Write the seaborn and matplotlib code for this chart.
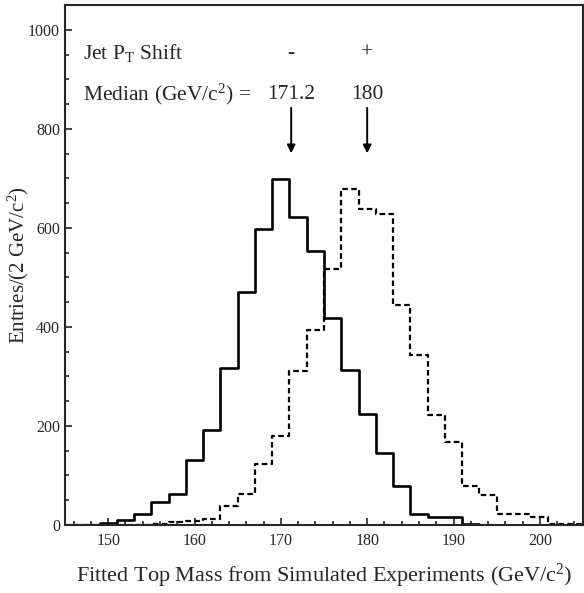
import numpy as np
import pandas as pd
import matplotlib
matplotlib.use('Agg')
import matplotlib.pyplot as plt
import seaborn as sns
from matplotlib.ticker import MultipleLocator

# bin edges (2 GeV/c^2 bins) and entries
edges = list(range(145, 206, 2))
minus_counts = [1, 1, 5, 11, 22, 46, 63, 131, 192, 317,
                470, 597, 698, 622, 553, 418, 312, 225, 145, 78,
                22, 16, 16, 2, 1, 1, 1, 0, 0, 0]
plus_counts = [0, 0, 0, 1, 1, 2, 7, 8, 12, 39,
               62, 123, 180, 310, 393, 517, 679, 639, 628, 444,
               343, 222, 167, 79, 60, 23, 23, 17, 3, 3]

medians = [171.2, 180]
median_labels = ['171.2', '180']
shift_labels = ['-', '+']

centers = [(a + b) / 2 for a, b in zip(edges[:-1], edges[1:])]
minus_df = pd.DataFrame({'mass': centers, 'entries': minus_counts})
plus_df = pd.DataFrame({'mass': centers, 'entries': plus_counts})

sns.set_style('ticks')
plt.rcParams['font.family'] = ['Liberation Serif', 'DejaVu Serif']
plt.rcParams['mathtext.fontset'] = 'custom'
plt.rcParams['mathtext.rm'] = 'Liberation Serif'
plt.rcParams['mathtext.it'] = 'Liberation Serif:italic'

fig = plt.figure(figsize=(5.84, 5.93), dpi=100)
ax = fig.add_axes([65 / 584, 68 / 593, 518 / 584, 520 / 593])

sns.histplot(data=minus_df, x='mass', weights='entries', bins=edges,
             element='step', fill=False, color='black', linewidth=1.9, ax=ax)
sns.histplot(data=plus_df, x='mass', weights='entries', bins=edges,
             element='step', fill=False, color='black', linewidth=1.6,
             linestyle=(0, (2.5, 1.5)), ax=ax)

ax.set_xlim(145, 205)
ax.set_ylim(0, 1050)
ax.xaxis.set_major_locator(MultipleLocator(10))
ax.xaxis.set_minor_locator(MultipleLocator(2))
ax.yaxis.set_major_locator(MultipleLocator(200))
ax.yaxis.set_minor_locator(MultipleLocator(50))
ax.tick_params(which='both', direction='in', width=1.2, labelsize=11.5)
ax.tick_params(which='major', length=5)
ax.tick_params(which='minor', length=3)
ax.tick_params(axis='x', pad=6)
for s in ax.spines.values():
    s.set_linewidth(1.5)

ax.set_xlabel('Fitted Top Mass from Simulated Experiments (GeV/c$^2$)', fontsize=16, labelpad=9)
ax.set_ylabel('Entries/(2 GeV/c$^2$)', fontsize=15)
ax.yaxis.set_label_coords(-0.066, 0.5)

# annotation block
ax.text(147.1, 953, 'Jet P$_\\mathrm{T}$ Shift', fontsize=15.5, va='center')
ax.text(147.1, 870, 'Median (GeV/c$^2$) =', fontsize=15.5, va='center')
for m, lab, sh in zip(medians, median_labels, shift_labels):
    ax.text(m, 953, sh, fontsize=15.5, ha='center', va='center')
    ax.text(m, 870, lab, fontsize=15.5, ha='center', va='center')
    ax.annotate('', xy=(m, 745), xytext=(m, 848),
                arrowprops=dict(arrowstyle='-|>', color='black', lw=1.4, mutation_scale=12))

fig.savefig('out.png', dpi=100)
